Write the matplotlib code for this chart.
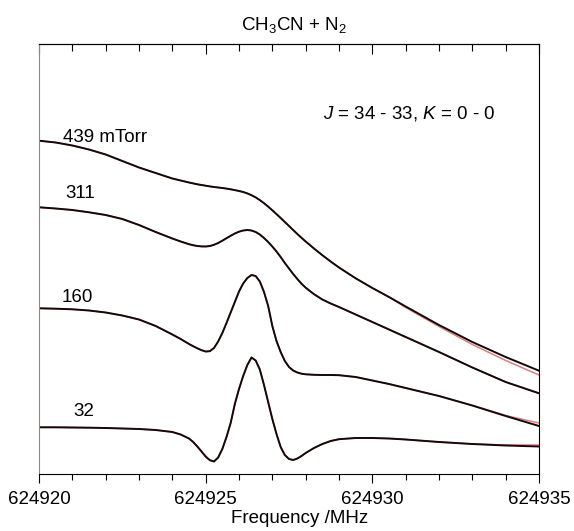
import numpy as np
import matplotlib
matplotlib.use("Agg")
import matplotlib.pyplot as plt
from matplotlib.ticker import MultipleLocator

plt.rcParams['font.family'] = ['Liberation Sans', 'DejaVu Sans']
plt.rcParams['mathtext.fontset'] = 'custom'
plt.rcParams['mathtext.rm'] = 'Liberation Sans'
plt.rcParams['mathtext.it'] = 'Liberation Sans:italic'

# frequency offsets from 624920 MHz
f0 = 624920
freq_offset = [0, 0.5, 1, 1.5, 2, 2.5, 3, 3.5, 4, 4.25, 4.5, 4.625, 4.75, 4.875, 5,
               5.125, 5.25, 5.375, 5.5, 5.625, 5.75, 5.875, 6, 6.125, 6.25, 6.375,
               6.5, 6.625, 6.75, 6.875, 7, 7.125, 7.25, 7.375, 7.5, 7.625, 7.75,
               7.875, 8, 8.25, 8.5, 8.75, 9, 9.5, 10, 10.5, 11, 12, 13, 14, 15]

# measured spectra (arb. units, stacked)
obs_439 = [333.3, 331.5, 328.5, 324.5, 319.5, 313, 306.5, 301, 295.5, 293.5, 291.5,
           290.6, 289.7, 289, 288.3, 287.6, 287, 286.5, 286, 285.4, 284.7, 283.9, 283,
           282, 280.6, 278.8, 276.6, 273.9, 270.8, 267.4, 263.7, 259.9, 256, 252, 248,
           244, 240, 236.2, 232.5, 225.5, 218.8, 212.5, 206.5, 195.7, 186, 177, 167.5,
           149, 132, 117, 103.3]
obs_311 = [266.7, 265.5, 264, 261.7, 259, 255, 249, 242, 235.5, 232.5, 229.8, 228.8,
           228, 227.6, 227.5, 228, 229.2, 231, 233.3, 235.8, 238.2, 240.5, 242.3, 243.5,
           244, 243.5, 242, 239.5, 236, 232, 227.5, 222.5, 217, 211, 205.5, 200, 195,
           190.3, 186.3, 179.8, 174.5, 170.5, 167, 159.5, 152, 144.5, 137, 122, 106.5,
           92, 80.7]
obs_160 = [165.7, 165.3, 164.7, 163.5, 161.5, 158.5, 154.5, 148, 139.5, 135, 130, 127.8,
           125.7, 123.8, 122.5, 122.8, 126, 132.5, 141, 151, 161.5, 172, 182.5, 190.5,
           196, 199, 198, 192.5, 182, 168, 148, 133, 122, 113, 107, 103.5, 101.5, 100.3,
           99.7, 99.2, 99, 99, 98.8, 97, 93.5, 90, 86, 78, 68.5, 58, 48]
obs_32 = [46.7, 46.7, 46.5, 46.3, 46, 45.5, 45, 44, 42, 39.5, 35.5, 32, 27.5, 22.5, 17.5,
          13.8, 12.5, 16.5, 25, 37, 51, 70, 85, 98, 109, 116.5, 113.5, 104.5, 89, 72,
          55, 40, 27, 19, 15, 14, 15.5, 18, 21, 26, 30, 33, 34.8, 36, 36, 35.5, 34.5,
          32, 30, 28.5, 27.5]

# fitted profiles
fit_439 = obs_439[:-5] + [166.5, 147.5, 129.5, 113.5, 99]
fit_311 = list(obs_311)
fit_160 = obs_160[:-2] + [58.5, 51]
fit_32 = obs_32[:-2] + [29, 29]

labels = ["439 mTorr", "311", "160", "32"]
label_pos = [(0.72, 332), (0.78, 275.7), (0.69, 172.3), (1.03, 58)]

freq = f0 + np.array(freq_offset)

fig = plt.figure(figsize=(5.74, 5.31), dpi=100)
ax = fig.add_axes([39 / 574, 57 / 531, 500 / 574, 430 / 531])

for obs, fit in [(obs_439, fit_439), (obs_311, fit_311), (obs_160, fit_160), (obs_32, fit_32)]:
    ax.plot(freq, fit, color="#d06060", lw=1.1, alpha=0.8)
    ax.plot(freq, obs, color="#140808", lw=1.4)

for lab, (xo, yv) in zip(labels, label_pos):
    ax.text(f0 + xo, yv, lab, fontsize=13.5, ha="left", va="baseline")

ax.text(f0 + 8.53, 355.7, "$J$ = 34 - 33, $K$ = 0 - 0", fontsize=13.5,
        ha="left", va="baseline")

ax.set_xlim(624920, 624935)
ax.set_ylim(0, 430)
ax.set_yticks([])

major = [624920, 624925, 624930, 624935]
ax.set_xticks(major, [str(m) for m in major])
ax.xaxis.set_minor_locator(MultipleLocator(1))
ax.tick_params(axis="x", which="both", direction="out", labelsize=13.5, width=0.8)
ax.tick_params(axis="x", which="major", length=6.5, pad=6)
ax.tick_params(axis="x", which="minor", length=4.3)

sec = ax.secondary_xaxis("top")
sec.set_xticks(major)
sec.xaxis.set_minor_locator(MultipleLocator(1))
sec.tick_params(which="both", direction="in", labeltop=False, width=0.8)
sec.tick_params(which="major", length=7.2)
sec.tick_params(which="minor", length=4.7)
sec.spines["top"].set_linewidth(0.8)

for s in ["top", "bottom", "right"]:
    ax.spines[s].set_linewidth(0.8)
    ax.spines[s].set_color("black")
ax.spines["left"].set_color("#8a8a8a")
ax.spines["left"].set_linewidth(0.8)

fig.text(294 / 574, 1 - 29.8 / 531, r"CH$_3$CN + N$_2$", fontsize=13.5,
         ha="center", va="baseline")
fig.text(300 / 574, 1 - 523 / 531, "Frequency /MHz", fontsize=13.5,
         ha="center", va="baseline")

fig.savefig("out.png", dpi=100)
